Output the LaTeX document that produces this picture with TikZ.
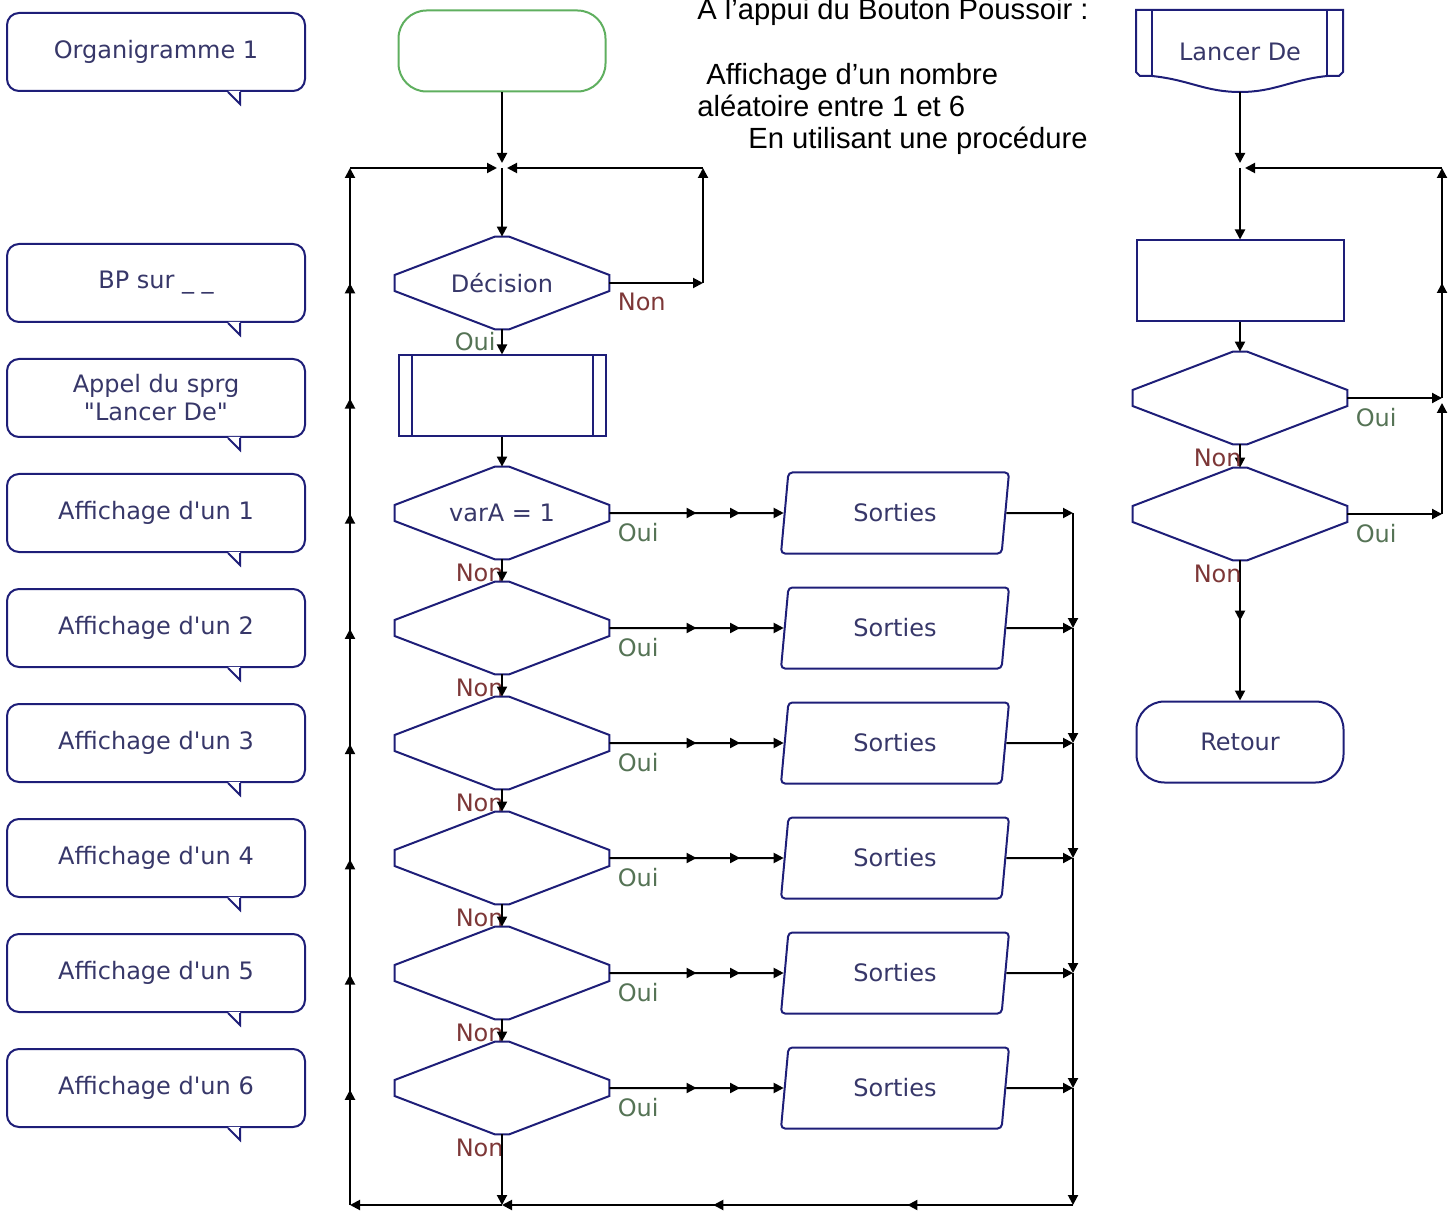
\documentclass[tikz,border=0pt]{standalone}
\usepackage{fontspec}
\setmainfont{DejaVu Sans}
\newfontfamily\arial{Liberation Sans}
\usetikzlibrary{arrows.meta,shapes.geometric,decorations.markings}

\definecolor{cadre}{RGB}{30,30,120}
\definecolor{textebleu}{RGB}{55,55,105}
\definecolor{vertoui}{RGB}{85,115,85}
\definecolor{rougenon}{RGB}{125,55,55}
\definecolor{vertdebut}{RGB}{95,175,95}

\tikzset{
  trait/.style={draw=cadre, line width=1pt},
  fleche/.style={line width=1pt, ->},
  milieu/.style={postaction={decorate, decoration={markings, mark=at position #1 with {\arrow{>}}}}},
  milieux/.style={postaction={decorate, decoration={markings, mark=between positions 0.1111 and 0.9 step 0.1111 with {\arrow{>}}}}},
}

% losange a coins tronques autour d'un noeud
\newcommand{\losange}[1]{%
  \draw[trait] ([yshift=4pt]#1.west) -- ([xshift=-3.5pt]#1.north) -- ([xshift=3.5pt]#1.north)
    -- ([yshift=4pt]#1.east) -- ([yshift=-4pt]#1.east) -- ([xshift=3.5pt]#1.south)
    -- ([xshift=-3.5pt]#1.south) -- ([yshift=-4pt]#1.west) -- cycle;}
% pointe de la bulle
\newcommand{\queue}[1]{%
  \fill[white] ([xshift=-39pt,yshift=0.6pt]#1.south east) -- ([xshift=-33pt,yshift=-6pt]#1.south east) -- ([xshift=-33pt,yshift=0.6pt]#1.south east) -- cycle;
  \draw[trait] ([xshift=-39pt]#1.south east) -- ([xshift=-33pt,yshift=-6pt]#1.south east) -- ([xshift=-33pt]#1.south east);}

\begin{document}
\begin{tikzpicture}[x=0.5pt, y=-0.5pt, font=\fontsize{12}{14}\selectfont,
  >={Triangle[length=5pt,width=5pt]},
  bulle/.style={trait, rounded corners=6pt, minimum width=149pt, minimum height=39pt, text=textebleu, align=center, fill=white},
  terminal/.style={trait, rounded corners=14pt, minimum width=103.5pt, minimum height=40.5pt, text=textebleu},
  boite/.style={trait, minimum width=103.5pt, minimum height=40.5pt},
  losangenoeud/.style={minimum width=107pt, minimum height=46pt, inner sep=0pt, text=textebleu},
  sortie/.style={trait, trapezium, trapezium left angle=84, trapezium right angle=96, trapezium stretches=true, rounded corners=2pt, minimum width=114.5pt, minimum height=40.5pt, text=textebleu},
  oui/.style={text=vertoui, inner sep=1pt},
  non/.style={text=rougenon, inner sep=1pt},
  consigne/.style={font=\arial\fontsize{14.6}{16}\selectfont, anchor=base west, inner sep=0pt},
]
\useasboundingbox (0,0) rectangle (1455,1213);

% bulles de commentaires
\node[bulle] (c0) at (156,52) {Organigramme 1};
\node[bulle] (c1) at (156,283) {BP sur \_ \_};
\node[bulle] (c2) at (156,398) {Appel du sprg\\\textquotedbl Lancer De\textquotedbl};
\foreach \i/\y in {1/513,2/628,3/743,4/858,5/973,6/1088}
  \node[bulle] (a\i) at (156,\y) {Affichage d\textquotesingle un \i};
\foreach \n in {c0,c1,c2,a1,a2,a3,a4,a5,a6} {\queue{\n}}

% consigne
\node[consigne] (t1) at (697,20) {A l’appui du Bouton Poussoir :};
\node[consigne] (t2) at (706,85) {Affichage d’un nombre};
\node[consigne] (t3) at (697,117) {aléatoire entre 1 et 6};
\node[consigne] (t4) at (748,149) {En utilisant une procédure};

% programme principal
\node[terminal, draw=vertdebut] (debut) at (502,51) {};
\coordinate (jh) at (502,168);
\coordinate (hg) at (350,168);
\coordinate (hd) at (703,168);
\coordinate (nd) at (703,283);
\coordinate (bg) at (350,1205);
\coordinate (bm) at (502,1205);
\coordinate (bd) at (1073,1205);

\node[losangenoeud] (d0) at (502,283) {Décision};
\losange{d0}
\node[boite] (p) at (502,396) {};
\draw[trait] ([xshift=7pt]p.north west) -- ([xshift=7pt]p.south west);
\draw[trait] ([xshift=-7pt]p.north east) -- ([xshift=-7pt]p.south east);

\foreach \i/\y/\t in {1/513/{varA = 1},2/628/{},3/743/{},4/858/{},5/973/{},6/1088/{}} {
  \node[losangenoeud] (d\i) at (502,\y) {\t};
  \losange{d\i}
  \node[sortie] (s\i) at (895,\y) {Sorties};
  \coordinate (k\i) at (1073,\y);
  \draw[fleche, milieu=0.5, milieu=0.75] (d\i.east) -- (s\i.west);
  \draw[fleche] (s\i.east) -- (k\i);
  \node[oui, anchor=north west] at ([xshift=3pt,yshift=-4pt]d\i.east) {Oui};
  \node[non, anchor=north east] at ([xshift=2pt,yshift=-1pt]d\i.south) {Non};
}
\foreach \i in {1,...,5} {
  \pgfmathtruncatemacro{\j}{\i+1}
  \draw[fleche] (d\i.south) -- (d\j.north);
  \draw[fleche] (k\i) -- (k\j);
}

\draw[fleche, shorten >=2.5pt] (debut.south) -- (jh);
\draw[fleche] (jh) -- (d0.north);
\draw[fleche] (d0.east) -- (nd);
\draw[fleche] (nd) -- (hd);
\draw[fleche, shorten >=2.5pt] (hd) -- (jh);
\node[non, anchor=north west] at ([xshift=3pt,yshift=-4pt]d0.east) {Non};
\draw[fleche] (d0.south) -- (p.north);
\node[oui, anchor=north east] at ([xshift=-2pt]d0.south) {Oui};
\draw[fleche] (p.south) -- (d1.north);

\draw[fleche] (d6.south) -- (bm);
\draw[fleche] (k6) -- (bd);
\draw[fleche, milieu=0.29, milieu=0.63] (bd) -- (bm);
\draw[fleche] (bm) -- (bg);
\draw[fleche, milieux] (bg) -- (hg);
\draw[fleche, shorten >=2.5pt] (hg) -- (jh);

% sous-programme
\draw[trait] (1136,10) -- (1343,10) -- (1343,72) -- (1339,76) -- (1327,76)
  .. controls (1290,80) and (1275,92) .. (1240,92)
  .. controls (1205,92) and (1190,80) .. (1152,76) -- (1140,76) -- (1136,72) -- cycle;
\draw[trait] (1152,10) -- (1152,76);
\draw[trait] (1327,10) -- (1327,76);
\node[text=textebleu] (ld) at (1240,52) {Lancer De};
\coordinate (ldbas) at (1240,92);
\coordinate (jd) at (1240,168);
\coordinate (rhd) at (1442,168);
\coordinate (r1c) at (1442,398);
\coordinate (r2c) at (1442,514);

\node[boite] (r) at (1240,281) {};
\node[losangenoeud] (rd1) at (1240,398) {};
\losange{rd1}
\node[losangenoeud] (rd2) at (1240,514) {};
\losange{rd2}
\node[terminal] (retour) at (1240,742) {Retour};

\draw[fleche, shorten >=2.5pt] (ldbas) -- (jd);
\draw[fleche] (jd) -- (r.north);
\draw[fleche] (r.south) -- (rd1.north);
\draw[fleche] (rd1.south) -- (rd2.north);
\draw[fleche, milieu=0.43] (rd2.south) -- (retour.north);
\draw[fleche] (rd1.east) -- (r1c);
\draw[fleche] (rd2.east) -- (r2c);
\draw[fleche, shorten >=2.5pt] (r2c) -- (r1c);
\draw[fleche, milieu=0.5] (r1c) -- (rhd);
\draw[fleche, shorten >=2.5pt] (rhd) -- (jd);
\node[oui, anchor=north west] at ([xshift=3pt,yshift=-4pt]rd1.east) {Oui};
\node[oui, anchor=north west] at ([xshift=3pt,yshift=-4pt]rd2.east) {Oui};
\node[non, anchor=north east] at ([xshift=2pt,yshift=-1pt]rd1.south) {Non};
\node[non, anchor=north east] at ([xshift=2pt,yshift=-1pt]rd2.south) {Non};
\end{tikzpicture}
\end{document}
